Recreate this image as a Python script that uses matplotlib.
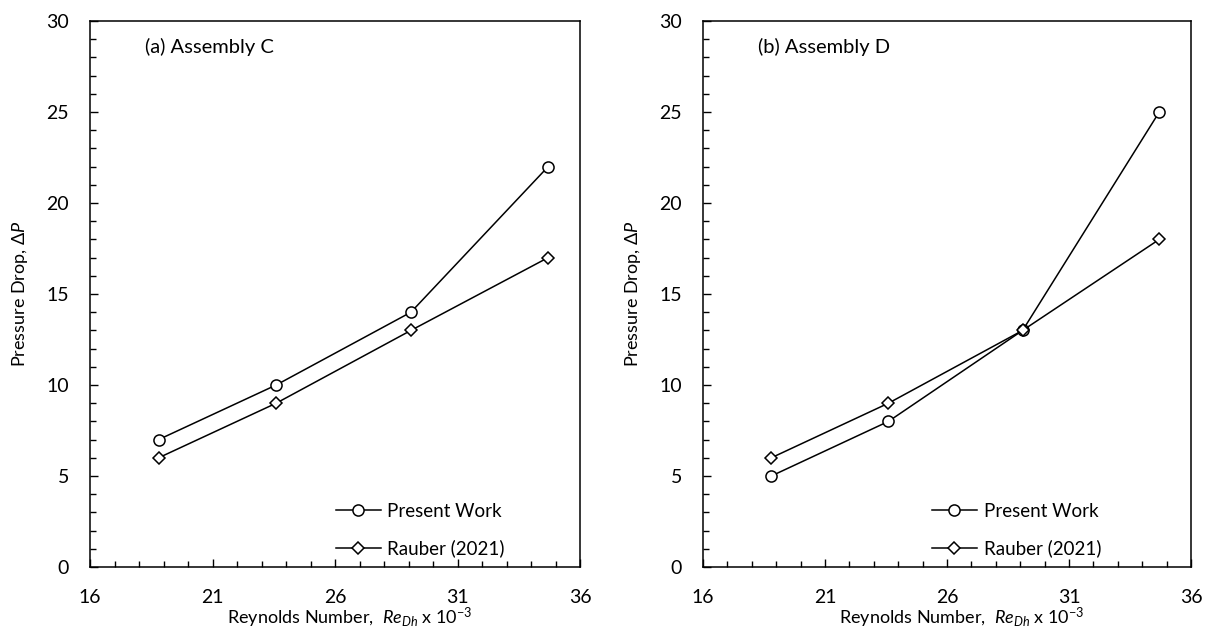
import matplotlib
matplotlib.use("Agg")
import matplotlib.pyplot as plt
from matplotlib.ticker import MultipleLocator

plt.rcParams['font.family'] = ['Lato', 'DejaVu Sans']
plt.rcParams['mathtext.fontset'] = 'custom'
plt.rcParams['mathtext.rm'] = 'Lato'
plt.rcParams['mathtext.it'] = 'Lato:italic'
plt.rcParams['mathtext.fallback'] = 'stixsans'

reynolds = [18.8, 23.6, 29.1, 34.7]
present_c = [7, 10, 14, 22]
rauber_c = [6, 9, 13, 17]
present_d = [5, 8, 13, 25]
rauber_d = [6, 9, 13, 18]
panel_titles = ["(a) Assembly C", "(b) Assembly D"]
legend_labels = ["Present Work", "Rauber (2021)"]
xticks = [16, 21, 26, 31, 36]
yticks = [0, 5, 10, 15, 20, 25, 30]

fig = plt.figure(figsize=(12.1, 6.32), dpi=100)
ax1 = fig.add_axes([90 / 1210, 1 - 567 / 632, 490 / 1210, 546 / 632])
ax2 = fig.add_axes([703 / 1210, 1 - 567 / 632, 488 / 1210, 546 / 632])

panels = [(ax1, present_c, rauber_c, panel_titles[0], 0.482),
          (ax2, present_d, rauber_d, panel_titles[1], 0.45)]

for ax, pres, raub, title, lx in panels:
    ax.plot(reynolds, pres, color='black', lw=1.1, marker='o', ms=8,
            mfc='white', mec='black', mew=1.1, label=legend_labels[0])
    ax.plot(reynolds, raub, color='black', lw=1.1, marker='D', ms=6.5,
            mfc='white', mec='black', mew=1.1, label=legend_labels[1])
    ax.set_xlim(16, 36)
    ax.set_ylim(0, 30)
    ax.set_xticks(xticks)
    ax.set_yticks(yticks)
    ax.xaxis.set_minor_locator(MultipleLocator(1))
    ax.yaxis.set_minor_locator(MultipleLocator(1))
    ax.tick_params(which='major', direction='in', length=6, width=1,
                   labelsize=14, colors='black')
    ax.tick_params(which='minor', direction='in', length=4, width=1)
    ax.tick_params(axis='y', which='major', pad=15)
    ax.tick_params(axis='x', which='major', pad=16)
    for s in ax.spines.values():
        s.set_linewidth(1.1)
        s.set_color('black')
    ax.set_xlabel(r'Reynolds Number,  $Re_{Dh}$ x 10$^{-3}$', fontsize=13, labelpad=0)
    ax.xaxis.label.set_x(0.53)
    ax.set_ylabel(r'Pressure Drop, $\Delta P$', fontsize=13, labelpad=12)
    ax.text(0.113, 0.952, title, transform=ax.transAxes, fontsize=14.5,
            ha='left', va='center')
    ax.legend(loc='center left', bbox_to_anchor=(lx, 0.068), frameon=False,
              fontsize=13.5, borderpad=0, handlelength=2.4, handletextpad=0.35,
              labelspacing=1.05)

fig.savefig('out.png', dpi=100)
